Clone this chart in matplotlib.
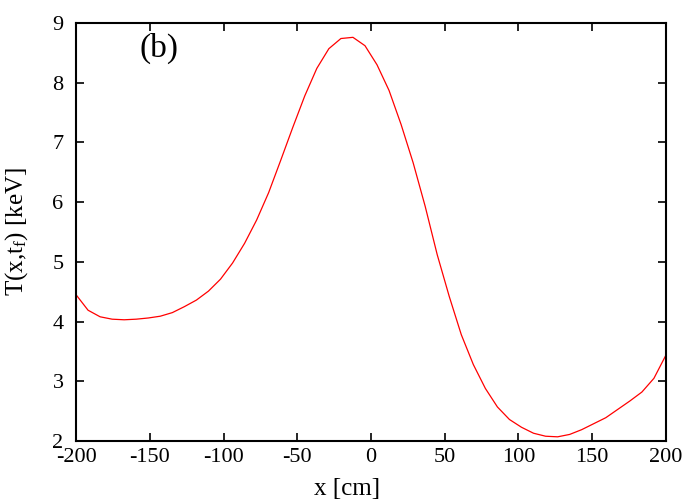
import numpy as np
import matplotlib.pyplot as plt

plt.rcParams['font.family'] = 'Liberation Serif'
plt.rcParams['mathtext.fontset'] = 'custom'
plt.rcParams['mathtext.rm'] = 'Liberation Serif'
plt.rcParams['mathtext.it'] = 'Liberation Serif'
plt.rcParams['axes.unicode_minus'] = False

# temperature profile at t_f, 50 grid points from -200 to 200 cm
x_cm = np.linspace(-200, 200, 50)
T_keV = [4.45, 4.19, 4.08, 4.04, 4.03, 4.04, 4.06, 4.09, 4.15, 4.25,
         4.36, 4.51, 4.71, 4.98, 5.31, 5.70, 6.16, 6.70, 7.25, 7.78,
         8.24, 8.57, 8.74, 8.76, 8.62, 8.30, 7.87, 7.30, 6.66, 5.93,
         5.12, 4.42, 3.78, 3.28, 2.88, 2.57, 2.36, 2.23, 2.13, 2.08,
         2.07, 2.11, 2.19, 2.29, 2.39, 2.53, 2.67, 2.82, 3.05, 3.44]

fig = plt.figure(figsize=(7, 5), dpi=100)
ax = fig.add_axes([0.1086, 0.118, 0.8428, 0.836])
ax.plot(x_cm, T_keV, color='red', lw=0.9)

ax.set_xlim(-200, 200)
ax.set_ylim(2, 9)
ax.set_xticks(np.arange(-200, 201, 50))
ax.set_yticks(np.arange(2, 10, 1))
ax.tick_params(direction='in', length=6, width=1.2, top=True, right=True,
               labelsize=16)
ax.tick_params(axis='x', pad=5)
ax.tick_params(axis='y', pad=9)
for s in ax.spines.values():
    s.set_linewidth(1.5)

ax.set_xlabel('x [cm]', fontsize=18, va='top')
ax.xaxis.set_label_coords(0.459, -0.088)
ax.set_ylabel(r'T(x,t$_\mathrm{f}$) [keV]', fontsize=18)
ax.yaxis.set_label_coords(-0.078, 0.5)
ax.text(-157, 8.58, '(b)', fontsize=24, va='center', ha='left')

fig.savefig('out.png', dpi=100)
